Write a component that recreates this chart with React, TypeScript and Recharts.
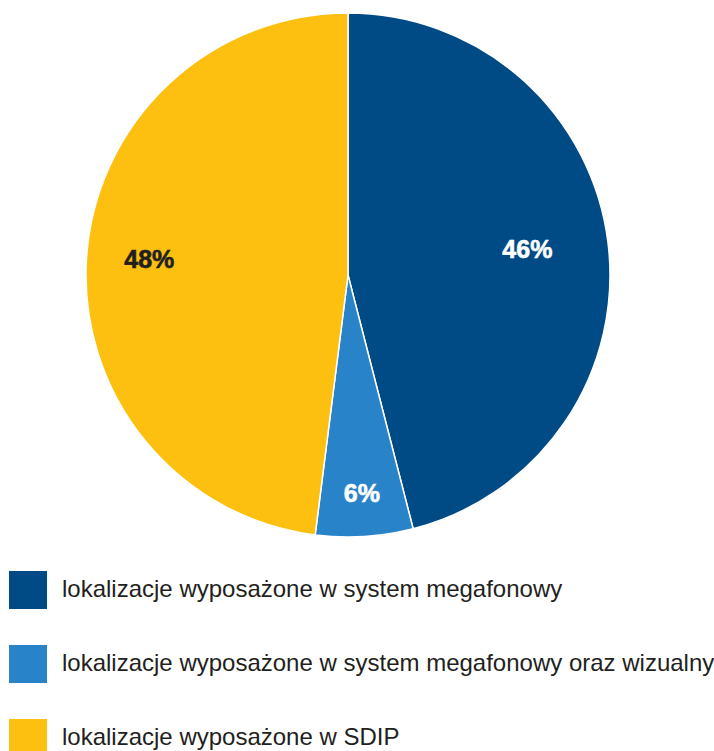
import { Cell, Pie, PieChart } from "recharts";

const categories = [
  "lokalizacje wyposażone w system megafonowy",
  "lokalizacje wyposażone w system megafonowy oraz wizualny",
  "lokalizacje wyposażone w SDIP",
];
const shares = [46, 6, 48];

const colors = ["#004b85", "#2983c9", "#fdc010"];
const labelColors = ["#ffffff", "#ffffff", "#231f20"];
// how far out (fraction of radius) each label sits
const labelRadius = [0.69, 0.845, 0.76];

const data = categories.map((name, i) => ({ name, value: shares[i] }));

const RADIAN = Math.PI / 180;

const renderLabel = (props: any) => {
  const { cx, cy, midAngle, outerRadius, index, value } = props;
  const r = outerRadius * labelRadius[index];
  const x = cx + r * Math.cos(-midAngle * RADIAN);
  const y = cy + r * Math.sin(-midAngle * RADIAN);
  return (
    <text
      x={x}
      y={y - 3}
      fill={labelColors[index]}
      textAnchor="middle"
      dominantBaseline="central"
      fontFamily="'Liberation Sans', Arial, sans-serif"
      fontWeight="bold"
      fontSize={25}
      stroke={labelColors[index]}
      strokeWidth={0.6}
    >
      {value}%
    </text>
  );
};

export default function App() {
  return (
    <div
      style={{
        position: "absolute",
        left: 0,
        top: 0,
        width: 714,
        height: 751,
        background: "#fff",
        fontFamily: "'Liberation Sans', Arial, sans-serif",
        overflow: "hidden",
      }}
    >
      <PieChart width={714} height={560} margin={{ top: 0, right: 0, bottom: 0, left: 0 }}>
        <Pie
          data={data}
          dataKey="value"
          cx={348}
          cy={275}
          outerRadius={262}
          startAngle={90}
          endAngle={-270}
          stroke="#ffffff"
          strokeWidth={1.5}
          label={renderLabel}
          labelLine={false}
          isAnimationActive={false}
        >
          {data.map((d, i) => (
            <Cell key={d.name} fill={colors[i]} />
          ))}
        </Pie>
      </PieChart>
      {categories.map((name, i) => (
        <div
          key={name}
          style={{
            position: "absolute",
            left: 9,
            top: 571 + i * 74,
            display: "flex",
            alignItems: "center",
            height: 38,
          }}
        >
          <span
            style={{
              width: 38,
              height: 38,
              background: colors[i],
              display: "inline-block",
            }}
          />
          <span
            style={{
              marginLeft: 15,
              marginTop: -3,
              fontSize: 24,
              color: "#231f20",
              whiteSpace: "nowrap",
            }}
          >
            {name}
          </span>
        </div>
      ))}
    </div>
  );
}
